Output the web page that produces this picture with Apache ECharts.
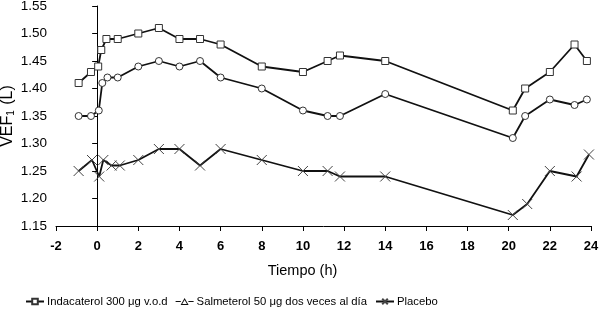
<!DOCTYPE html>
<html>
<head>
<meta charset="utf-8">
<script src="https://cdn.jsdelivr.net/npm/echarts@6/dist/echarts.min.js"></script>
<style>html,body{margin:0;padding:0;background:#fff}#c{width:600px;height:322px}</style>
</head>
<body>
<div id="c"></div>
<script>
var seriesNames = ['Indacaterol 300 \u03bcg v.o.d', 'Salmeterol 50 \u03bcg dos veces al d\u00eda', 'Placebo'];
var indaX = [-0.9, -0.3, 0.05, 0.2, 0.45, 1, 2, 3, 4, 5, 6, 8, 10, 11.2, 11.8, 14, 20.2, 20.8, 22, 23.2, 23.8];
var indaY = [1.41, 1.43, 1.44, 1.47, 1.49, 1.49, 1.50, 1.51, 1.49, 1.49, 1.48, 1.44, 1.43, 1.45, 1.46, 1.45, 1.36, 1.40, 1.43, 1.48, 1.45];
var salmX = [-0.9, -0.3, 0.08, 0.25, 0.5, 1, 2, 3, 4, 5, 6, 8, 10, 11.2, 11.8, 14, 20.2, 20.8, 22, 23.2, 23.8];
var salmY = [1.35, 1.35, 1.36, 1.41, 1.42, 1.42, 1.44, 1.45, 1.44, 1.45, 1.42, 1.40, 1.36, 1.35, 1.35, 1.39, 1.31, 1.35, 1.38, 1.37, 1.38];
var placX = [-0.9, -0.25, 0.1, 0.3, 0.7, 1.1, 2, 3, 4, 5, 6, 8, 10, 11.2, 11.8, 14, 20.2, 20.9, 22, 23.3, 23.9];
var placY = [1.25, 1.27, 1.24, 1.27, 1.26, 1.26, 1.27, 1.29, 1.29, 1.26, 1.29, 1.27, 1.25, 1.25, 1.24, 1.24, 1.17, 1.19, 1.25, 1.24, 1.28];

function pairs(xs, ys) { return xs.map(function (x, i) { return [x, ys[i]]; }); }

var triIcon = 'path://M0,3.1L5.2,3.1L5.2,3.9L0,3.9Z M12.8,3.1L18,3.1L18,3.9L12.8,3.9Z M9,0L13,7L5,7Z M9,1.9L6.6,6.1L11.4,6.1Z';

var chart = echarts.init(document.getElementById('c'), null, { renderer: 'canvas' });
var markerStyle = { color: '#fff', borderColor: '#333', borderWidth: 1 };
var lineStyle = { color: '#111', width: 1.8 };
chart.setOption({
  animation: false,
  backgroundColor: '#fff',
  textStyle: { fontFamily: 'Liberation Sans, Arial, sans-serif' },
  grid: { left: 56, right: 9, top: 6, bottom: 96, containLabel: false, outerBoundsMode: 'none' },
  xAxis: {
    type: 'value', min: -2, max: 24, interval: 2,
    name: 'Tiempo (h)', nameLocation: 'middle', nameGap: 37, nameMoveOverlap: false,
    nameTextStyle: { fontSize: 14.5, color: '#000', padding: [0, 42, 0, 0] },
    axisLine: { lineStyle: { color: '#000', width: 1 } },
    axisTick: { show: true, length: 5, lineStyle: { color: '#000' } },
    axisLabel: { fontSize: 13, fontWeight: 'bold', color: '#000', margin: 14 },
    splitLine: { show: false }
  },
  yAxis: {
    type: 'value', min: 1.15, max: 1.55, interval: 0.05,
    name: '{a|VEF}{s|1}{a| (L)}', nameLocation: 'middle', nameGap: 40, nameMoveOverlap: false,
    nameTextStyle: { rich: { a: { fontSize: 16, color: '#000' }, s: { fontSize: 10, color: '#000', verticalAlign: 'bottom', padding: [7, 1, 0, 0] } } },
    axisLine: { show: true, lineStyle: { color: '#000', width: 1 } },
    axisTick: { show: true, length: 5, lineStyle: { color: '#000' } },
    axisLabel: { fontSize: 13.5, color: '#000', margin: 9, formatter: function (v) { return v.toFixed(2); } },
    splitLine: { show: false }
  },
  legend: {
    left: 20, top: 291, itemWidth: 18, itemHeight: 7, itemGap: 8,
    textStyle: { fontSize: 11.3, color: '#000', padding: [0, 0, 0, -2] },
    data: [
      { name: seriesNames[0] },
      { name: seriesNames[1], icon: triIcon, itemStyle: { color: '#111', borderWidth: 0 } },
      { name: seriesNames[2] }
    ]
  },
  series: [
    { name: seriesNames[0], type: 'line', data: pairs(indaX, indaY), symbol: 'rect', symbolSize: 7, itemStyle: markerStyle, lineStyle: lineStyle },
    { name: seriesNames[1], type: 'line', data: pairs(salmX, salmY), symbol: 'circle', symbolSize: 7, itemStyle: markerStyle, lineStyle: lineStyle },
    { name: seriesNames[2], type: 'line', data: pairs(placX, placY), symbol: 'path://M0,0L10,10M10,0L0,10', symbolSize: 10, itemStyle: { color: 'none', borderColor: '#444', borderWidth: 1 }, lineStyle: lineStyle }
  ]
});
</script>
</body>
</html>
